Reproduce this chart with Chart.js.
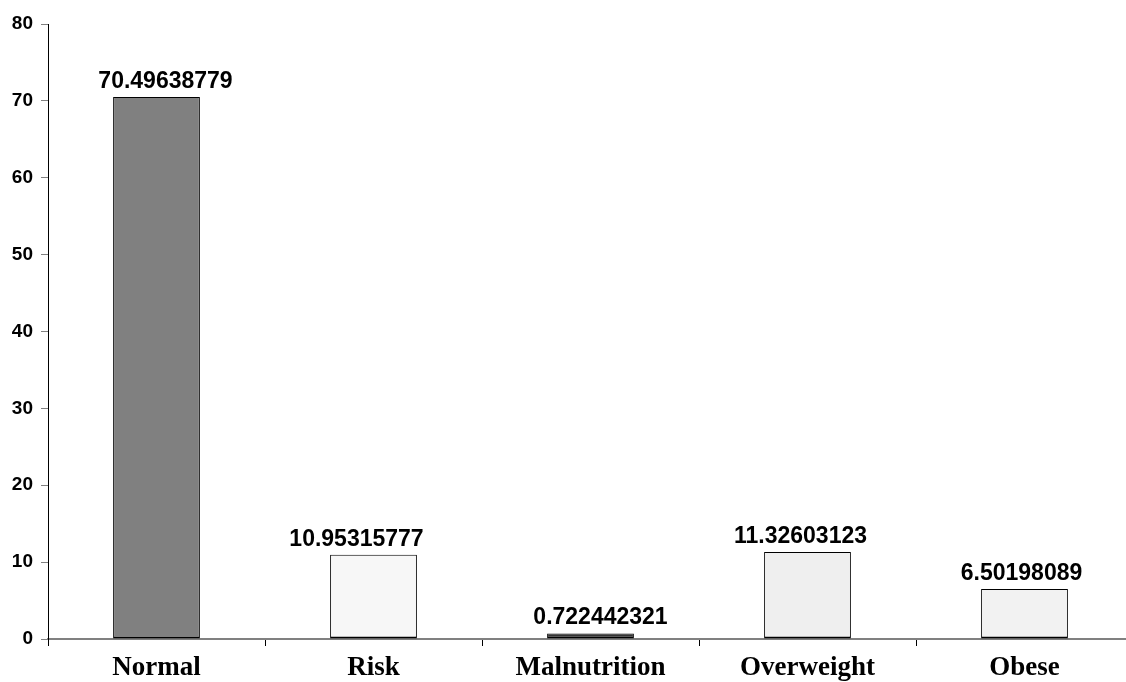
<!DOCTYPE html>
<html>
<head>
<meta charset="utf-8">
<script src="https://cdn.jsdelivr.net/npm/chart.js@4/dist/chart.umd.min.js"></script>
<style>
html,body{margin:0;padding:0;background:#fff;overflow:hidden;}
canvas{display:block;}
</style>
</head>
<body>
<canvas id="c" width="1134" height="682"></canvas>
<script>
const categories = ["Normal", "Risk", "Malnutrition", "Overweight", "Obese"];
const values = [70.49638779, 10.95315777, 0.722442321, 11.32603123, 6.50198089];
const valueLabels = ["70.49638779", "10.95315777", "0.722442321", "11.32603123", "6.50198089"];
const barColors = ["#808080", "#f7f7f7", "#333333", "#efefef", "#f2f2f2"];
const yMin = 0, yMax = 80, yStep = 10;

const dataLabelPlugin = {
  id: 'dataLabels',
  afterDatasetsDraw(chart, args, opts) {
    const ctx = chart.ctx;
    const meta = chart.getDatasetMeta(0);
    const nudges = opts.nudges || [];
    ctx.save();
    ctx.font = 'bold 23px "Liberation Sans", Arial, sans-serif';
    ctx.fillStyle = '#000';
    ctx.textAlign = 'center';
    ctx.textBaseline = 'alphabetic';
    meta.data.forEach((bar, i) => {
      ctx.fillText(valueLabels[i], bar.x + (nudges[i] || 0), bar.y - 9);
    });
    ctx.restore();
  }
};

new Chart(document.getElementById('c'), {
  type: 'bar',
  data: {
    labels: categories,
    datasets: [{
      data: values,
      backgroundColor: barColors,
      borderColor: '#000',
      borderWidth: { left: 1, right: 1, top: 1, bottom: 2 },
      borderSkipped: false,
      barPercentage: 0.4,
      categoryPercentage: 1.0
    }]
  },
  options: {
    responsive: false,
    devicePixelRatio: 1,
    animation: false,
    layout: { padding: { top: 24, right: 1, bottom: 0, left: 0 } },
    plugins: {
      legend: { display: false },
      tooltip: { enabled: false },
      dataLabels: { nudges: [9, -17, 10, -7, -3] }
    },
    scales: {
      x: {
        grid: { display: true, drawOnChartArea: false, drawTicks: true, tickLength: 7, color: '#000', offset: true },
        border: { display: true, color: '#808080', width: 2 },
        ticks: {
          color: '#000',
          padding: 6,
          font: { family: '"Liberation Serif", "Times New Roman", serif', size: 27, weight: 'bold' }
        },
        afterFit(scale) { scale.height = 43; }
      },
      y: {
        min: yMin, max: yMax,
        grid: { display: true, drawOnChartArea: false, drawTicks: true, tickLength: 7, color: '#808080' },
        border: { display: true, color: '#000', width: 1 },
        ticks: {
          stepSize: yStep,
          color: '#000',
          padding: 8,
          font: { family: '"Liberation Sans", Arial, sans-serif', size: 19, weight: 'bold' }
        },
        afterFit(scale) { scale.width = 48; }
      }
    }
  },
  plugins: [dataLabelPlugin]
});
</script>
</body>
</html>
